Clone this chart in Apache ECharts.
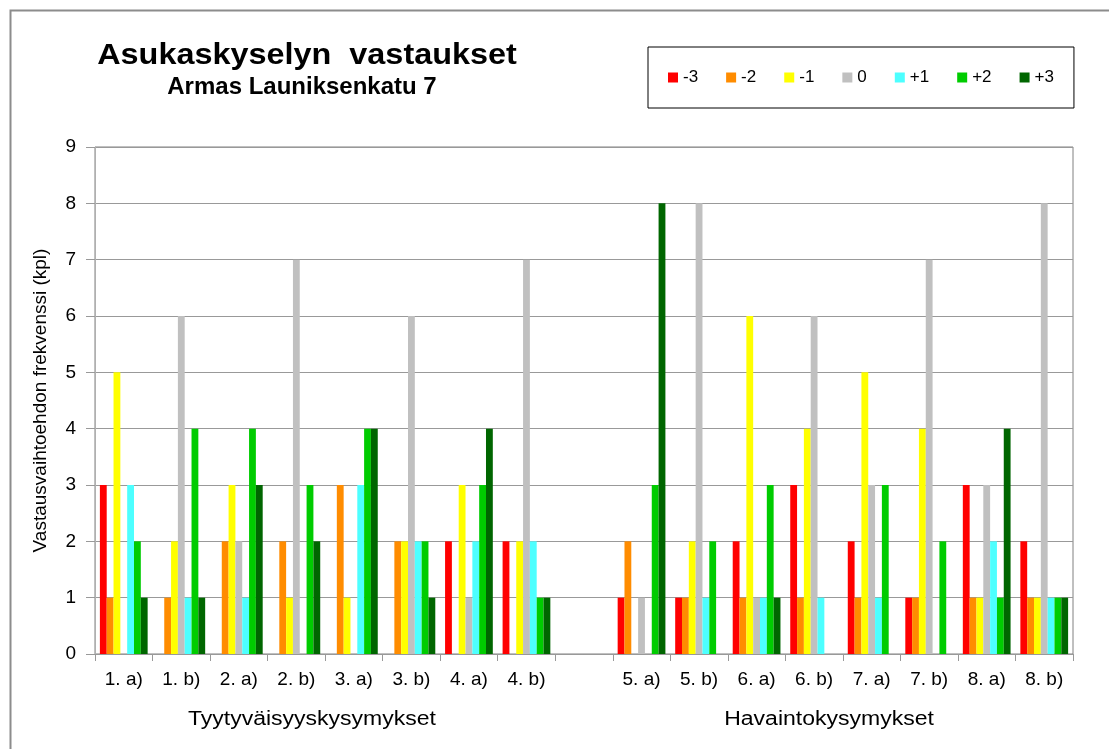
<!DOCTYPE html>
<html>
<head>
<meta charset="utf-8">
<title>Asukaskyselyn vastaukset</title>
<script src="https://cdn.jsdelivr.net/npm/echarts@6/dist/echarts.min.js"></script>
<style>
  html, body { margin: 0; padding: 0; background: #fff; }
  #chart { width: 1109px; height: 749px; }
</style>
</head>
<body>
<div id="chart"></div>
<script>
// kysymykset (tyhjä väli ryhmien välissä)
var categories = ['1. a)', '1. b)', '2. a)', '2. b)', '3. a)', '3. b)', '4. a)', '4. b)', '',
  '5. a)', '5. b)', '6. a)', '6. b)', '7. a)', '7. b)', '8. a)', '8. b)'];

var seriesNames = ['-3', '-2', '-1', '0', '+1', '+2', '+3'];
var seriesColors = ['#ff0000', '#ff8c00', '#ffff00', '#c0c0c0', '#4dffff', '#00cc00', '#006600'];

// vastausten lukumäärät
var minus3 = [3, 0, 0, 0, 0, 0, 2, 2, null, 1, 1, 2, 3, 2, 1, 3, 2];
var minus2 = [1, 1, 2, 2, 3, 2, 0, 0, null, 2, 1, 1, 1, 1, 1, 1, 1];
var minus1 = [5, 2, 3, 1, 1, 2, 3, 2, null, 0, 2, 6, 4, 5, 4, 1, 1];
var zero   = [0, 6, 2, 7, 0, 6, 1, 7, null, 1, 8, 1, 6, 3, 7, 3, 8];
var plus1  = [3, 1, 1, 0, 3, 2, 2, 2, null, 0, 1, 1, 1, 1, 0, 2, 1];
var plus2  = [2, 4, 4, 3, 4, 2, 3, 1, null, 3, 2, 3, 0, 3, 2, 1, 1];
var plus3  = [1, 1, 3, 2, 4, 1, 4, 1, null, 8, 0, 1, 0, 0, 0, 4, 1];

var groupLabels = ['Tyytyväisyyskysymykset', 'Havaintokysymykset'];

var allData = [minus3, minus2, minus1, zero, plus1, plus2, plus3];
var font = 'Liberation Sans, Arial, sans-serif';

var series = [];
for (var i = 0; i < seriesNames.length; i++) {
  series.push({
    name: seriesNames[i],
    type: 'bar',
    data: allData[i],
    barGap: '0%',
    barCategoryGap: '17%',
    itemStyle: { color: seriesColors[i] }
  });
}

var myChart = echarts.init(document.getElementById('chart'), null, { renderer: 'canvas' });
var option = {
  backgroundColor: '#fff',
  animation: false,
  textStyle: { fontFamily: font },
  legend: {
    left: 648,
    top: 47,
    orient: 'horizontal',
    data: seriesNames,
    icon: 'rect',
    itemWidth: 10,
    itemHeight: 10,
    itemGap: 28,
    padding: [22, 20, 22, 20],
    borderColor: '#000',
    borderWidth: 1,
    textStyle: { fontSize: 17, color: '#000', fontFamily: font }
  },
  grid: {
    left: 95,
    top: 147,
    right: 36,
    bottom: 95,
    show: true,
    borderColor: '#808080',
    borderWidth: 1
  },
  xAxis: {
    type: 'category',
    data: categories,
    axisLine: { lineStyle: { color: '#999', width: 1 } },
    axisTick: { show: true, length: 7, lineStyle: { color: '#999' } },
    axisLabel: { fontSize: 19, color: '#000', margin: 16, interval: 0, fontFamily: font }
  },
  yAxis: {
    type: 'value',
    min: 0,
    max: 9,
    interval: 1,
    name: 'Vastausvaihtoehdon frekvenssi (kpl)',
    nameLocation: 'middle',
    nameGap: 45,
    nameTextStyle: { fontSize: 19, color: '#000', fontFamily: font },
    axisLine: { show: true, lineStyle: { color: '#b0b0b0' } },
    axisTick: { show: true, length: 9, lineStyle: { color: '#999' } },
    axisLabel: { fontSize: 19, color: '#000', margin: 19, fontFamily: font },
    splitLine: { lineStyle: { color: '#999', width: 1 } }
  },
  graphic: [
    {
      type: 'rect',
      left: 8, top: 8, z: -10,
      shape: { width: 1200, height: 800 },
      style: { fill: 'none', stroke: '#8c8c8c', lineWidth: 2 }
    },
    {
      type: 'text',
      x: 307, y: 71,
      scaleX: 1.08,
      style: { text: 'Asukaskyselyn  vastaukset', fill: '#000', font: 'bold 30px ' + font, textAlign: 'center', verticalAlign: 'bottom' }
    },
    {
      type: 'text',
      x: 302, y: 99,
      style: { text: 'Armas Launiksenkatu 7', fill: '#000', font: 'bold 24px ' + font, textAlign: 'center', verticalAlign: 'bottom' }
    },
    {
      type: 'text',
      x: 312, y: 719,
      scaleX: 1.15,
      style: { text: groupLabels[0], fill: '#000', font: '20px ' + font, textAlign: 'center', verticalAlign: 'middle' }
    },
    {
      type: 'text',
      x: 829, y: 719,
      scaleX: 1.15,
      style: { text: groupLabels[1], fill: '#000', font: '20px ' + font, textAlign: 'center', verticalAlign: 'middle' }
    }
  ],
  series: series
};
myChart.setOption(option);
</script>
</body>
</html>
